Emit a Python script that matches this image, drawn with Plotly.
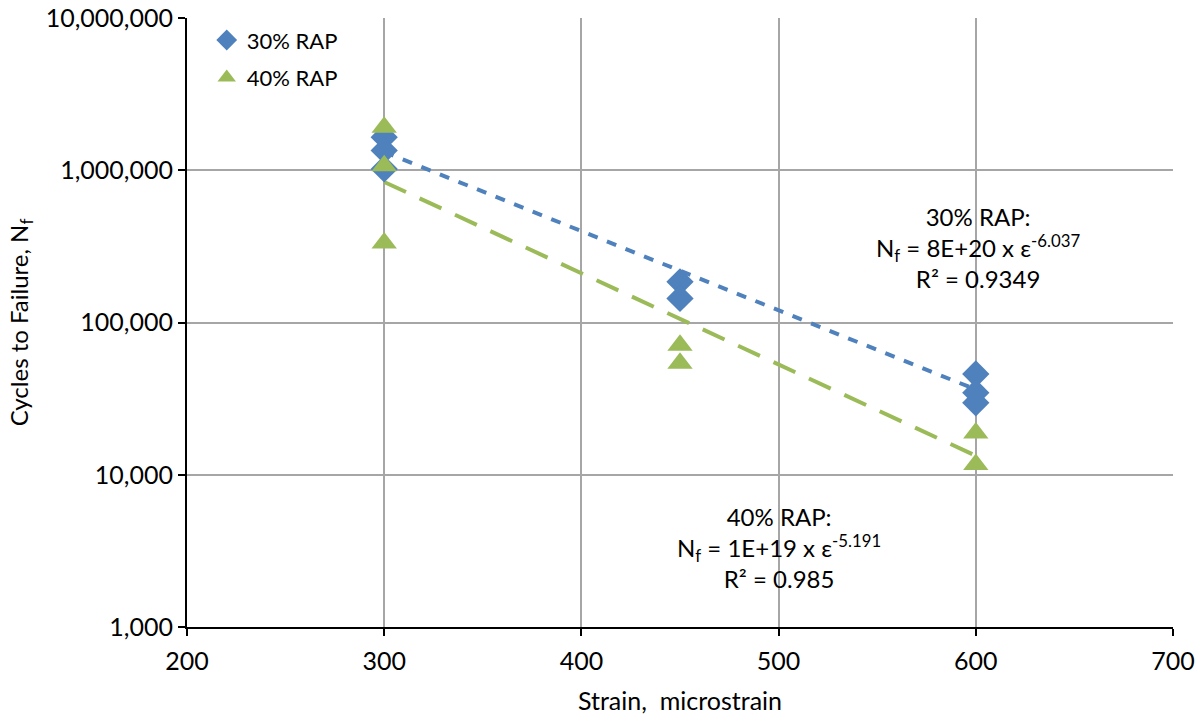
import numpy as np
import plotly.graph_objects as go

# data
strain_30 = [300, 300, 300, 450, 450, 600, 600, 600]
cycles_30 = [1650000, 1350000, 1020000, 185000, 144000, 45900, 34600, 29700]

strain_40 = [300, 300, 300, 450, 450, 600, 600]
cycles_40 = [1920000, 1070000, 333000, 71000, 54000, 18800, 11700]

x_ticks = [200, 300, 400, 500, 600, 700]
y_ticks = [1000, 10000, 100000, 1000000, 10000000]
y_labels = ["1,000", "10,000", "100,000", "1,000,000", "10,000,000"]

blue = "#4F81BD"
green = "#9BBB59"
font = "Lato"


def power_fit(x, y):
    b, a = np.polyfit(np.log10(x), np.log10(y), 1)
    xs = np.array([min(x), max(x)], dtype=float)
    return xs, 10 ** (a + b * np.log10(xs))


fig = go.Figure()

tx, ty = power_fit(strain_30, cycles_30)
fig.add_trace(go.Scatter(x=tx, y=ty, mode="lines", showlegend=False,
                         line=dict(color=blue, width=4, dash="10px,10px"),
                         hoverinfo="skip"))
tx, ty = power_fit(strain_40, cycles_40)
fig.add_trace(go.Scatter(x=tx, y=ty, mode="lines", showlegend=False,
                         line=dict(color=green, width=4, dash="24px,15px"),
                         hoverinfo="skip"))

fig.add_trace(go.Scatter(x=strain_30, y=cycles_30, mode="markers", name="30% RAP",
                         legendgroup="a",
                         marker=dict(symbol="diamond", size=21, color=blue)))
fig.add_trace(go.Scatter(x=strain_40, y=cycles_40, mode="markers", name="40% RAP",
                         legendgroup="b",
                         marker=dict(symbol="triangle-up", size=22, color=green)))

fig.add_annotation(x=601, y=5.49, xref="x", yref="y", showarrow=False,
                   text="30% RAP:<br>N<sub>f</sub> = 8E+20 x ε<sup>-6.037</sup><br>R² = 0.9349",
                   font=dict(family=font, size=24, color="black"), align="center")
fig.add_annotation(x=500, y=3.52, xref="x", yref="y", showarrow=False,
                   text="40% RAP:<br>N<sub>f</sub> = 1E+19 x ε<sup>-5.191</sup><br>R² = 0.985",
                   font=dict(family=font, size=24, color="black"), align="center")

fig.update_layout(
    width=1202, height=719,
    paper_bgcolor="white", plot_bgcolor="white",
    margin=dict(l=187, r=29, t=18, b=92),
    font=dict(family=font, size=23, color="black"),
    legend=dict(x=0.02, y=0.998, xanchor="left", yanchor="top", tracegroupgap=6,
                bgcolor="rgba(0,0,0,0)", font=dict(family=font, size=22, color="black"),
                itemsizing="trace"),
)
fig.update_xaxes(
    range=[200, 700], tickvals=x_ticks, showgrid=True, gridcolor="#A6A6A6", gridwidth=2,
    showline=True, linecolor="black", linewidth=2, ticks="outside", ticklen=7,
    tickwidth=2, tickcolor="black", zeroline=False, automargin=False,
    ticklabeloverflow="allow",
    tickfont=dict(family=font, size=25, color="black"), ticklabelstandoff=4,
    title=dict(text="Strain,  microstrain", standoff=18,
               font=dict(family=font, size=25, color="black")),
)
fig.update_yaxes(
    type="log", range=[3, 7.0002], tickvals=y_ticks, ticktext=y_labels,
    showgrid=True, gridcolor="#A6A6A6", gridwidth=2,
    showline=True, linecolor="black", linewidth=2, ticks="outside", ticklen=7,
    tickwidth=2, tickcolor="black", zeroline=False, automargin=False,
    ticklabeloverflow="allow",
    tickfont=dict(family=font, size=25, color="black"),
    title=dict(text="Cycles to Failure, N<sub>f</sub>", standoff=10,
               font=dict(family=font, size=24, color="black")),
)

# drop the default body margin so the figure fills the window
fig.write_html("out.html", config={"displayModeBar": False},
               post_script="document.body.style.margin = '0';")
